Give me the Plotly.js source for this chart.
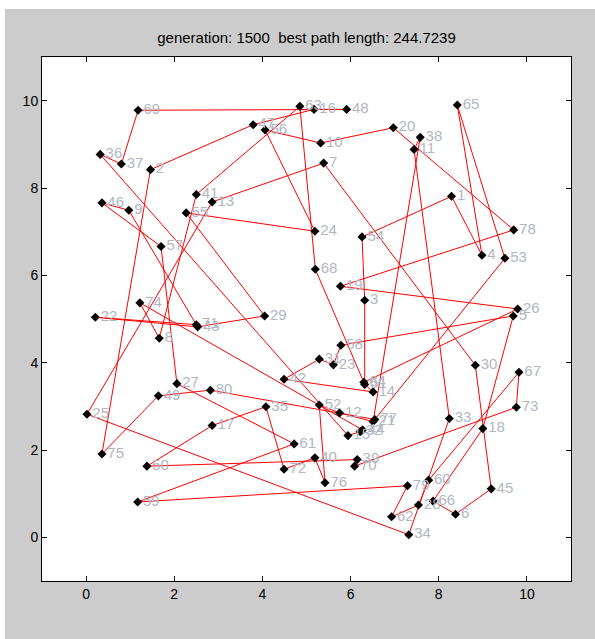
<!DOCTYPE html>
<html>
<head>
<meta charset="utf-8">
<script src="https://cdn.plot.ly/plotly-3.0.1.min.js"></script>
<style>
  html, body { margin: 0; padding: 0; background: #ffffff; }
  #chart { position: absolute; left: 5px; top: 9px; width: 590px; height: 630px; }
</style>
</head>
<body>
<div id="chart"></div>
<script>
// City coordinates, indexed by city number (index 0 = city 1)
const cityX = [8.29,1.46,6.32,8.98,9.69,8.38,5.39,1.66,0.97,5.32,
               7.44,5.75,2.86,6.51,5.94,5.17,2.86,9.00,5.77,6.97,
               6.51,0.21,5.61,5.19,0.02,9.79,2.06,7.54,4.05,8.83,
               5.29,6.22,8.24,7.32,4.08,0.32,0.80,7.58,6.15,5.19,
               2.50,4.49,2.53,6.27,9.19,0.36,3.79,5.91,1.64,1.38,
               6.32,5.29,9.50,6.26,2.27,4.06,1.70,5.78,1.17,7.77,
               4.72,6.93,4.85,6.30,8.42,7.87,9.82,5.20,1.18,6.09,
               2.50,4.49,9.76,1.22,0.36,5.42,6.55,9.70,7.29,2.82];
const cityY = [7.81,8.42,5.43,6.46,5.07,0.53,8.57,4.56,7.49,9.03,
               8.88,2.85,7.68,3.33,2.33,9.80,2.56,2.49,5.75,9.38,
               2.65,5.04,3.95,7.01,2.82,5.23,3.52,0.74,5.07,3.94,
               4.08,2.42,2.72,0.06,2.99,8.77,8.55,9.16,1.78,1.82,
               7.85,3.62,4.82,2.46,1.11,7.66,9.45,9.80,3.24,1.63,
               3.50,3.03,6.39,6.88,7.43,9.33,6.66,4.40,0.81,1.31,
               2.14,0.47,9.87,3.55,9.90,0.83,3.78,6.14,9.78,1.63,
               4.87,1.56,2.98,5.37,1.91,1.25,2.70,7.04,1.18,3.37];
// Best tour (city numbers, closed)
const tour = [80,49,75,2,47,16,48,69,37,36,15,32,44,74,8,41,63,68,64,26,
              19,78,20,10,56,24,55,29,43,22,71,9,46,57,27,61,59,79,62,28,
              60,67,73,70,39,50,17,35,72,40,76,52,12,21,38,11,33,34,25,13,
              7,30,45,6,66,18,5,58,23,31,42,14,51,3,54,1,4,65,53,77];
const cityLabels = cityX.map((_, i) => String(i + 1));
const titleText = 'generation: 1500  best path length: 244.7239';
const tickVals = [0, 2, 4, 6, 8, 10];

const pathX = tour.map(c => cityX[c - 1]).concat([cityX[tour[0] - 1]]);
const pathY = tour.map(c => cityY[c - 1]).concat([cityY[tour[0] - 1]]);

const traces = [
  { x: pathX, y: pathY, mode: 'lines', type: 'scatter',
    line: { color: '#ff0000', width: 1 }, hoverinfo: 'skip' },
  { x: cityX, y: cityY, mode: 'markers+text', type: 'scatter',
    text: cityLabels, textposition: 'middle right',
    textfont: { family: 'Liberation Sans, Arial, sans-serif', size: 15, color: '#b2b6c2' },
    marker: { symbol: 'diamond', size: 7, color: '#000000' }, hoverinfo: 'skip' }
];

const axisCommon = {
  range: [-1, 11], tickvals: tickVals, ticktext: tickVals.map(String),
  ticks: 'inside', ticklen: 5, tickwidth: 1, tickcolor: '#000',
  showline: true, linecolor: '#000', linewidth: 1, mirror: 'allticks',
  showgrid: false, zeroline: false,
  tickfont: { family: 'Liberation Sans, Arial, sans-serif', size: 14, color: '#000' }
};

const layout = {
  width: 590, height: 630,
  paper_bgcolor: '#cccccc', plot_bgcolor: '#ffffff',
  margin: { l: 37, r: 24, t: 48, b: 58 },
  showlegend: false,
  title: { text: titleText, x: 0.5, xref: 'paper', y: 0.954, yref: 'container', yanchor: 'middle',
           font: { family: 'Liberation Sans, Arial, sans-serif', size: 15, color: '#000' } },
  xaxis: Object.assign({}, axisCommon),
  yaxis: Object.assign({}, axisCommon)
};

Plotly.newPlot('chart', traces, layout, { staticPlot: true, displayModeBar: false });
</script>
</body>
</html>
